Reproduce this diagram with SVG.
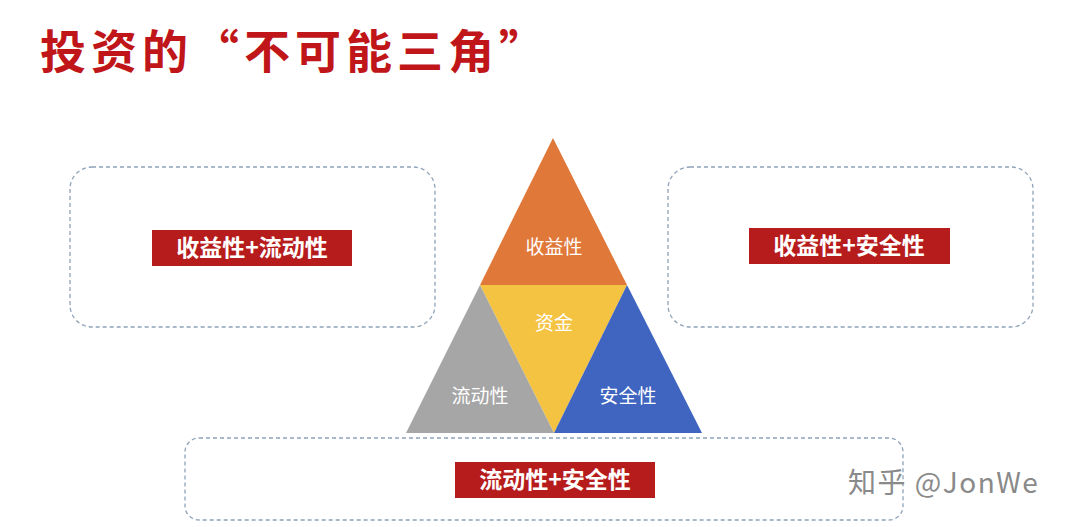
<svg xmlns="http://www.w3.org/2000/svg" width="1080" height="527" viewBox="0 0 1080 527">
<style>
.box{fill:none;stroke:#8fa3b8;stroke-width:1.3;stroke-dasharray:4 3}
.lab{fill:#b71c1c}
.lt{font-family:"Noto Sans CJK SC",sans-serif;font-weight:bold;font-size:23px;fill:#fff;text-anchor:middle}
.tt{font-family:"Noto Sans CJK SC",sans-serif;font-size:19px;fill:#fff;text-anchor:middle}
</style>
<rect width="1080" height="527" fill="#fff"/>
<text x="40" y="68" font-family="Noto Sans CJK SC,sans-serif" font-weight="bold" font-size="46" letter-spacing="5" fill="#c0161a">投资的“不可能三角”</text>
<g id="tri">
<polygon points="553,138 480,285 627,285" fill="#e0783a"/>
<polygon points="480,285 627,285 554,433" fill="#f5c342"/>
<polygon points="480,285 406,433 554,433" fill="#a6a6a6"/>
<polygon points="627,285 554,433 702,433" fill="#3f65c0"/>
<text class="tt" x="554" y="254">收益性</text>
<text class="tt" x="554" y="330">资金</text>
<text class="tt" x="480" y="403">流动性</text>
<text class="tt" x="628" y="403">安全性</text>
</g>
<g id="left"><rect class="box" x="70" y="167" width="365" height="160" rx="22"/>
<rect class="lab" x="152" y="230" width="200" height="36"/><text class="lt" x="252" y="256">收益性+流动性</text></g>
<g id="right"><rect class="box" x="668" y="167" width="365" height="160" rx="22"/>
<rect class="lab" x="749" y="228" width="201" height="36"/><text class="lt" x="849" y="254">收益性+安全性</text></g>
<g id="bottom"><rect class="box" x="185" y="438" width="718" height="82" rx="14"/>
<rect class="lab" x="455" y="462" width="200" height="36"/><text class="lt" x="555" y="488">流动性+安全性</text></g>
<g id="connectors"/>
<text x="848" y="493" font-family="Noto Sans CJK SC,sans-serif" font-size="28" letter-spacing="1.5" fill="#8a8a8a">知乎 @JonWe</text>
</svg>
